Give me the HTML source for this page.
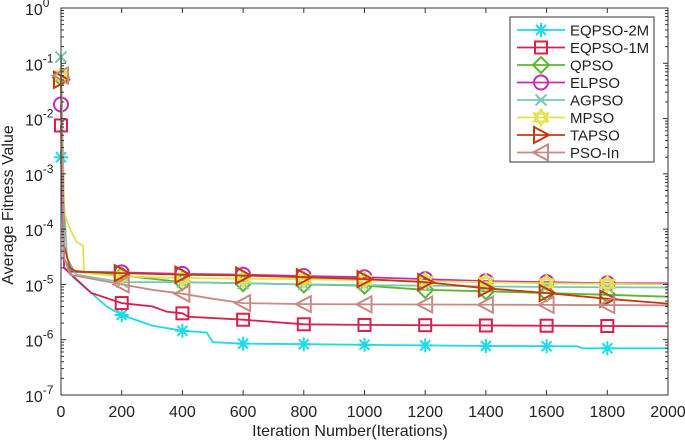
<!DOCTYPE html>
<html><head><meta charset="utf-8"><style>
html,body{margin:0;padding:0;background:#fff;}
svg{display:block;font-family:"Liberation Sans",sans-serif;}
</style></head><body>
<svg id="chart" width="685" height="440" viewBox="0 0 685 440">
<rect x="0" y="0" width="685" height="440" fill="#fff"/>
<g id="series"></g>
<g id="axes"></g>
<g id="legend"></g>
<text x="350" y="436" text-anchor="middle" font-size="16" fill="#222">Iteration Number(Iterations)</text>
<text transform="translate(13,205) rotate(-90)" text-anchor="middle" font-size="16" fill="#222">Average Fitness Value</text>
</svg>
<script>
const names = ["EQPSO-2M","EQPSO-1M","QPSO","ELPSO","AGPSO","MPSO","TAPSO","PSO-In"];
const colors = ["#1ddbe8","#d8204e","#5cb82e","#c42cb6","#78c9b4","#e6e04a","#c23a12","#c98a84"];
const markers = ["star","square","diamond","circle","x","hexagram","tright","tleft"];
const xTicks = [0,200,400,600,800,1000,1200,1400,1600,1800,2000];
const yExps = [0,-1,-2,-3,-4,-5,-6,-7];
const markerIters = [0,200,400,600,800,1000,1200,1400,1600,1800];
const sEQPSO2M = [[0,2e-3],[10,2e-5],[50,1.2e-5],[100,7e-6],[150,4e-6],[200,2.8e-6],[300,1.8e-6],[400,1.45e-6],[480,1.35e-6],[500,9e-7],[600,8.5e-7],[800,8.3e-7],[1000,8.1e-7],[1200,7.9e-7],[1400,7.7e-7],[1700,7.6e-7],[1720,7e-7],[2000,7e-7]];
const sEQPSO1M = [[0,7.5e-3],[10,2e-5],[100,7e-6],[200,4.6e-6],[300,4e-6],[350,3.2e-6],[400,3e-6],[420,2.6e-6],[600,2.3e-6],[800,1.9e-6],[1000,1.85e-6],[2000,1.75e-6]];
const sQPSO = [[0,5.5e-2],[10,3e-5],[30,1.8e-5],[200,1.45e-5],[400,1.1e-5],[600,1.05e-5],[1000,9.5e-6],[1200,8e-6],[1400,7.5e-6],[1800,6.5e-6],[2000,6e-6]];
const sELPSO = [[0,1.8e-2],[10,2e-5],[30,1.7e-5],[200,1.65e-5],[400,1.55e-5],[600,1.5e-5],[800,1.42e-5],[1000,1.35e-5],[1200,1.25e-5],[1400,1.15e-5],[1600,1.1e-5],[1800,1.05e-5],[2000,1.05e-5]];
const sAGPSO = [[0,1.3e-1],[10,3e-4],[20,3e-5],[50,1.5e-5],[200,1.1e-5],[400,1.1e-5],[800,1.0e-5],[1200,9.5e-6],[1600,9e-6],[2000,8.8e-6]];
const sMPSO = [[0,6e-2],[10,2e-4],[30,1e-4],[50,6e-5],[72,5e-5],[76,1.6e-5],[200,1.4e-5],[400,1.3e-5],[800,1.25e-5],[1200,1.15e-5],[1600,1.05e-5],[2000,1e-5]];
const sTAPSO = [[0,5e-2],[10,5e-5],[30,2e-5],[50,1.7e-5],[200,1.6e-5],[400,1.5e-5],[600,1.45e-5],[800,1.35e-5],[1000,1.25e-5],[1200,1.1e-5],[1400,8.5e-6],[1600,7e-6],[1800,5.5e-6],[2000,4.5e-6]];
const sPSOIn = [[0,6e-2],[10,3e-5],[30,1.5e-5],[200,1e-5],[300,8e-6],[400,6.8e-6],[500,5.5e-6],[600,4.6e-6],[800,4.4e-6],[2000,4.2e-6]];
const allSeries = [sEQPSO2M,sEQPSO1M,sQPSO,sELPSO,sAGPSO,sMPSO,sTAPSO,sPSOIn];

const L=61,R=668,T=8,B=395;
const NS="http://www.w3.org/2000/svg";
function xS(v){return L+(v/2000)*(R-L);}
function yS(v){return T+(-Math.log10(v)/7)*(B-T);}
function mk(tag,attrs,parent){const e=document.createElementNS(NS,tag);for(const k in attrs)e.setAttribute(k,attrs[k]);parent.appendChild(e);return e;}
function interp(s,x){for(let i=1;i<s.length;i++){if(x<=s[i][0]){const a=s[i-1],b=s[i];const t=(x-a[0])/(b[0]-a[0]||1);return Math.pow(10,Math.log10(a[1])+t*(Math.log10(b[1])-Math.log10(a[1])));}}return s[s.length-1][1];}
function drawMarker(type,cx,cy,col,g){
  const r=7;let e;
  const st={fill:"none",stroke:col,"stroke-width":2};
  if(type==="star"){e=mk("path",Object.assign({d:`M${cx-r} ${cy}H${cx+r}M${cx} ${cy-r}V${cy+r}M${cx-5} ${cy-5}L${cx+5} ${cy+5}M${cx-5} ${cy+5}L${cx+5} ${cy-5}`},st),g);}
  else if(type==="square"){e=mk("rect",Object.assign({x:cx-6,y:cy-6,width:12,height:12},st),g);}
  else if(type==="diamond"){e=mk("path",Object.assign({d:`M${cx} ${cy-8}L${cx+8} ${cy}L${cx} ${cy+8}L${cx-8} ${cy}Z`},st),g);}
  else if(type==="circle"){e=mk("circle",Object.assign({cx:cx,cy:cy,r:7},st),g);}
  else if(type==="x"){e=mk("path",Object.assign({d:`M${cx-5.5} ${cy-5.5}L${cx+5.5} ${cy+5.5}M${cx-5.5} ${cy+5.5}L${cx+5.5} ${cy-5.5}`},st),g);}
  else if(type==="hexagram"){e=mk("path",Object.assign({d:`M${cx} ${cy-8}L${cx+7} ${cy+4}L${cx-7} ${cy+4}ZM${cx} ${cy+8}L${cx+7} ${cy-4}L${cx-7} ${cy-4}Z`},st),g);}
  else if(type==="tright"){e=mk("path",Object.assign({d:`M${cx-7} ${cy-8}L${cx+8} ${cy}L${cx-7} ${cy+8}Z`},st),g);}
  else {e=mk("path",Object.assign({d:`M${cx+7} ${cy-8}L${cx-8} ${cy}L${cx+7} ${cy+8}Z`},st),g);}
  
  
}
const sg=document.getElementById('series');
allSeries.forEach((s,i)=>{
  const g=mk("g",{},sg);
  
  
  const p=mk("polyline",{points:s.map(d=>xS(d[0]).toFixed(1)+","+yS(d[1]).toFixed(1)).join(" "),fill:"none",stroke:colors[i],"stroke-width":1.8},g);
  
  
  markerIters.forEach(x=>drawMarker(markers[i],xS(x),yS(interp(s,x)),colors[i],g));
});
const ag=document.getElementById('axes');
const box=mk("rect",{x:L,y:T,width:R-L,height:B-T,fill:"none",stroke:"#333","stroke-width":1},ag);


xTicks.forEach(v=>{
  const x=xS(v);
  mk("line",{x1:x,y1:B,x2:x,y2:B-5,stroke:"#333"},ag);
  mk("line",{x1:x,y1:T,x2:x,y2:T+5,stroke:"#333"},ag);
  const t=mk("text",{x:x,y:B+22,"text-anchor":"middle","font-size":16,fill:"#222"},ag);
  t.textContent=v;
  
  
});
yExps.forEach(e=>{
  const y=yS(Math.pow(10,e));
  mk("line",{x1:L,y1:y,x2:L+5,y2:y,stroke:"#333"},ag);
  mk("line",{x1:R,y1:y,x2:R-5,y2:y,stroke:"#333"},ag);
  if(e>-7){for(let k=2;k<10;k++){const yy=yS(k*Math.pow(10,e-1));mk("line",{x1:L,y1:yy,x2:L+3,y2:yy,stroke:"#333"},ag);mk("line",{x1:R,y1:yy,x2:R-3,y2:yy,stroke:"#333"},ag);}}
  const t=mk("text",{x:25,y:y+7,"font-size":16,fill:"#222"},ag);
  
  
  t.textContent="10";
  const sup=document.createElementNS(NS,"tspan");sup.setAttribute("dy","-8");sup.setAttribute("font-size","12");sup.textContent=String(e);t.appendChild(sup);
});
const lg=document.getElementById('legend');
const lb=mk("rect",{x:510,y:17,width:144,height:145,fill:"#fff",stroke:"#333","stroke-width":1},lg);


names.forEach((n,i)=>{
  const y=30+i*17.5;
  const g=mk("g",{},lg);
  
  
  mk("line",{x1:517,y1:y,x2:565,y2:y,stroke:colors[i],"stroke-width":1.8},g);
  drawMarker(markers[i],541,y,colors[i],g);
  const t=mk("text",{x:570,y:y+5.5,"font-size":15,fill:"#222"},g);
  t.textContent=n;
});
</script>
</body></html>
